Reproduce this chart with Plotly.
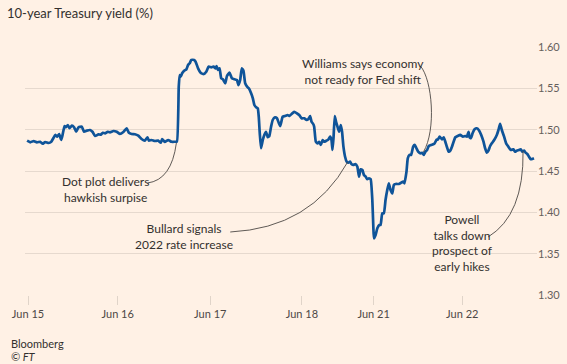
import plotly.graph_objects as go

# Session time (trading days since Jun 15 open) and 10-year yield (%)
session_time = [
    -0.01, 0.025, 0.062, 0.098, 0.134, 0.161, 0.189, 0.226, 0.255, 0.281,
    0.298, 0.320, 0.342, 0.364, 0.379, 0.401, 0.415, 0.437, 0.456, 0.481,
    0.506, 0.528, 0.554, 0.590, 0.615, 0.645, 0.681, 0.707, 0.736, 0.773,
    0.798, 0.820, 0.845, 0.874, 0.899, 0.937, 0.973, 1.009, 1.046, 1.082,
    1.107, 1.137, 1.173, 1.210, 1.246, 1.282, 1.311, 1.326, 1.355, 1.391,
    1.428, 1.457, 1.472, 1.501, 1.538, 1.574, 1.610, 1.634, 1.654, 1.664,
    1.675, 1.691, 1.713, 1.738, 1.756, 1.774, 1.792, 1.822, 1.839, 1.866,
    1.894, 1.927, 1.956, 1.981, 2.011, 2.036, 2.058, 2.069, 2.084, 2.102,
    2.120, 2.139, 2.164, 2.183, 2.211, 2.237, 2.266, 2.292, 2.309, 2.328,
    2.346, 2.364, 2.383, 2.404, 2.423, 2.448, 2.467, 2.484, 2.503, 2.521,
    2.532, 2.543, 2.557, 2.576, 2.593, 2.612, 2.631, 2.648, 2.667, 2.685,
    2.710, 2.732, 2.751, 2.768, 2.794, 2.820, 2.849, 2.867, 2.893, 2.921,
    2.951, 2.976, 3.002, 3.031, 3.057, 3.074, 3.096, 3.111, 3.129, 3.140,
    3.158, 3.177, 3.195, 3.213, 3.232, 3.249, 3.275, 3.297, 3.315, 3.330,
    3.341, 3.352, 3.366, 3.380, 3.396, 3.413, 3.432, 3.446, 3.461, 3.479,
    3.497, 3.516, 3.533, 3.549, 3.570, 3.592, 3.614, 3.632, 3.650, 3.669,
    3.686, 3.705, 3.723, 3.741, 3.760, 3.778, 3.789, 3.796, 3.814, 3.833,
    3.855, 3.869, 3.887, 3.905, 3.923, 3.942, 3.959, 3.978, 3.997, 4.014,
    4.033, 4.069, 4.095, 4.117, 4.131, 4.153, 4.167, 4.186, 4.204, 4.226,
    4.244, 4.262, 4.281, 4.306, 4.325, 4.342, 4.361, 4.379, 4.397, 4.423,
    4.445, 4.462, 4.481, 4.499, 4.517, 4.543, 4.561, 4.579, 4.598, 4.615,
    4.634, 4.652, 4.670, 4.689, 4.714, 4.743, 4.773, 4.798, 4.816, 4.834,
    4.845, 4.860, 4.878, 4.900, 4.926, 4.951, 4.973, 4.998, 5.016, 5.035,
    5.052, 5.071, 5.089, 5.115, 5.144, 5.162, 5.180, 5.199, 5.224, 5.246,
    5.271, 5.297, 5.326, 5.344, 5.363, 5.388, 5.406, 5.424, 5.443, 5.461,
    5.479, 5.497, 5.516, 5.533, 5.552,
]
yield_pct = [
    1.4867, 1.4847, 1.4863, 1.4847, 1.4854, 1.4830, 1.4851, 1.4839, 1.4854, 1.4903,
    1.4936, 1.4915, 1.4948, 1.4875, 1.4936, 1.5044, 1.5029, 1.5056, 1.5017, 1.5048,
    1.5029, 1.4975, 1.5029, 1.5036, 1.4975, 1.4988, 1.4996, 1.4975, 1.4923, 1.4944,
    1.4939, 1.4963, 1.4956, 1.4975, 1.4968, 1.4984, 1.4975, 1.4948, 1.4972, 1.5017,
    1.4963, 1.4948, 1.4944, 1.4927, 1.4887, 1.4867, 1.4908, 1.4867, 1.4875, 1.4863,
    1.4867, 1.4842, 1.4887, 1.4851, 1.4875, 1.4854, 1.4854, 1.4857, 1.5520, 1.5661,
    1.5641, 1.5682, 1.5713, 1.5730, 1.5782, 1.5803, 1.5843, 1.5843, 1.5822, 1.5742,
    1.5689, 1.5673, 1.5701, 1.5762, 1.5754, 1.5762, 1.5742, 1.5770, 1.5722, 1.5742,
    1.5621, 1.5609, 1.5561, 1.5649, 1.5689, 1.5621, 1.5609, 1.5601, 1.5540, 1.5601,
    1.5742, 1.5713, 1.5561, 1.5520, 1.5500, 1.5440, 1.5379, 1.5298, 1.5271, 1.5258,
    1.5157, 1.4956, 1.4775, 1.4875, 1.4936, 1.4975, 1.4908, 1.4923, 1.5036, 1.5117,
    1.5150, 1.5138, 1.5084, 1.5044, 1.5157, 1.5165, 1.5177, 1.5165, 1.5190, 1.5217,
    1.5198, 1.5177, 1.5138, 1.5138, 1.5117, 1.5125, 1.5165, 1.5096, 1.5069, 1.5036,
    1.4854, 1.4835, 1.4854, 1.4815, 1.4875, 1.4854, 1.4867, 1.4883, 1.4915, 1.4875,
    1.4754, 1.4896, 1.5165, 1.5096, 1.5036, 1.4975, 1.5056, 1.4975, 1.4794, 1.4673,
    1.4613, 1.4600, 1.4613, 1.4585, 1.4573, 1.4585, 1.4552, 1.4431, 1.4521, 1.4512,
    1.4452, 1.4431, 1.4400, 1.4412, 1.4400, 1.4149, 1.3826, 1.3686, 1.3726, 1.3807,
    1.3847, 1.3847, 1.3988, 1.3988, 1.4149, 1.4270, 1.4351, 1.4270, 1.4230, 1.4331,
    1.4343, 1.4343, 1.4359, 1.4371, 1.4351, 1.4492, 1.4654, 1.4694, 1.4694, 1.4794,
    1.4815, 1.4775, 1.4734, 1.4714, 1.4721, 1.4694, 1.4734, 1.4754, 1.4802, 1.4815,
    1.4823, 1.4835, 1.4875, 1.4883, 1.4915, 1.4883, 1.4908, 1.4854, 1.4787, 1.4734,
    1.4746, 1.4794, 1.4854, 1.4908, 1.4923, 1.4936, 1.4915, 1.4923, 1.4915, 1.4975,
    1.4908, 1.4896, 1.4956, 1.5004, 1.5017, 1.4988, 1.4936, 1.4854, 1.4775, 1.4721,
    1.4746, 1.4802, 1.4835, 1.4875, 1.4936, 1.4996, 1.5069, 1.4996, 1.4915, 1.4835,
    1.4794, 1.4754, 1.4763, 1.4734, 1.4746, 1.4754, 1.4763, 1.4734, 1.4746, 1.4721,
    1.4706, 1.4673, 1.4642, 1.4645, 1.4654,
]

tick_positions = [0.0, 0.984, 2.0, 3.005, 3.792, 4.765]
tick_labels = ["Jun 15", "Jun 16", "Jun 17", "Jun 18", "Jun 21", "Jun 22"]
y_ticks = [1.30, 1.35, 1.40, 1.45, 1.50, 1.55, 1.60]

# annotation texts and anchor positions (data units)
notes = [
    ("Dot plot delivers<br>hawkish surpise", 0.852, 1.4276),
    ("Bullard signals<br>2022 rate increase", 1.710, 1.3702),
    ("Williams says economy<br>not ready for Fed shift", 3.672, 1.5704),
    ("Powell<br>talks down<br>prospect of<br>early hikes", 4.765, 1.3635),
]
# connector curves (SVG paths in data units)
connectors = [
    "M1.311,1.4355 Q1.574,1.4391 1.628,1.4839",
    "M2.219,1.3762 Q3.104,1.3811 3.508,1.4609",
    "M4.306,1.5770 C4.437,1.5601 4.481,1.4996 4.339,1.4730",
    "M5.049,1.3702 Q5.443,1.3968 5.432,1.4742",
]

BG = "#fff1e5"
FONT = "Lato, 'Noto Sans', sans-serif"
PLOT_L, PLOT_R, PLOT_T, PLOT_B = 23, 537, 47, 295

def px_to_paper(px, py):
    return ((px - PLOT_L) / (PLOT_R - PLOT_L), (PLOT_B - py) / (PLOT_B - PLOT_T))

fig = go.Figure()
fig.add_trace(go.Scatter(
    x=session_time, y=yield_pct, mode="lines",
    line=dict(color="#0f5499", width=2.7, shape="spline", smoothing=0.4),
    hoverinfo="skip", showlegend=False,
))

shapes = []
for p in connectors:
    shapes.append(dict(type="path", path=p, xref="x", yref="y",
                       line=dict(color="#4d4845", width=0.9), layer="above"))

annotations = []
for text, x, y in notes:
    annotations.append(dict(text=text, x=x, y=y, xref="x", yref="y",
                            showarrow=False, align="center",
                            font=dict(family=FONT, size=12, color="#33302e")))
for text, py in [("Bloomberg", 343), ("<i>© FT</i>", 356)]:
    ax, ay = px_to_paper(7, py)
    annotations.append(dict(text=text, x=ax, y=ay, xref="paper", yref="paper",
                            showarrow=False, xanchor="left", yanchor="middle",
                            font=dict(family=FONT, size=11, color="#33302e")))

fig.update_layout(
    width=567, height=364,
    paper_bgcolor=BG, plot_bgcolor=BG,
    margin=dict(l=PLOT_L, r=567 - PLOT_R, t=PLOT_T, b=364 - PLOT_B),
    title=dict(text="10-year Treasury yield (%)", x=7 / 567, xanchor="left",
               y=1 - 13 / 364, yanchor="middle",
               font=dict(family=FONT, size=13, color="#33302e")),
    xaxis=dict(range=[-0.033, 5.585], tickvals=tick_positions, ticktext=tick_labels,
               showgrid=False, zeroline=False, showline=False,
               ticks="outside", ticklen=9, tickcolor="#e0d4c9",
               tickfont=dict(family=FONT, size=11, color="#4d4845")),
    yaxis=dict(range=[1.30, 1.60], tickvals=y_ticks,
               ticktext=[f"{v:.2f}" for v in y_ticks], side="right",
               showgrid=True, gridcolor="#e6d9ce", gridwidth=1, zeroline=False,
               showline=False, ticks="", automargin=False,
               tickfont=dict(family=FONT, size=11, color="#66605c")),
    shapes=shapes, annotations=annotations,
)

fig.write_html(
    "out.html",
    config={"displayModeBar": False},
    post_script="document.body.style.margin='0';document.body.style.background='#fff1e5';",
)
